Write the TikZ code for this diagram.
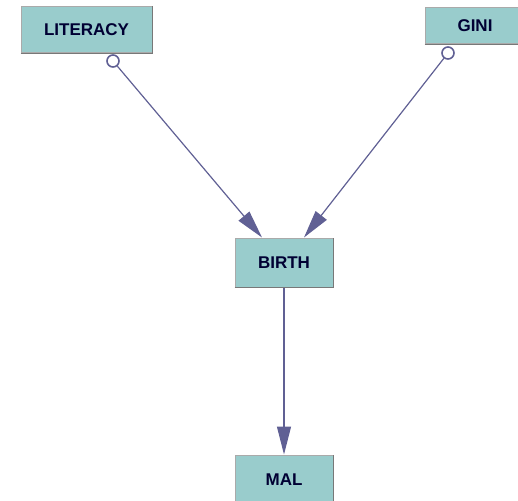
\documentclass[tikz,border=0pt]{standalone}
\usepackage{fontspec}
\setmainfont{Liberation Sans}
\usetikzlibrary{arrows.meta}
\definecolor{boxfill}{RGB}{153,204,204}
\definecolor{boxedge}{RGB}{170,170,170}
\definecolor{boxshade}{RGB}{120,120,120}
\definecolor{linkcol}{RGB}{96,96,148}
\definecolor{labelcol}{RGB}{0,0,51}
\tikzset{
  varbox/.style={rectangle, fill=boxfill, draw=boxedge, line width=1pt,
    inner sep=0pt, text=labelcol, font=\bfseries\fontsize{17}{19}\selectfont,
    minimum width=98pt, minimum height=49pt},
  shade edge/.style={draw=boxshade, line width=1.2pt},
  link/.style={draw=linkcol, line width=1.2pt,
    -{Triangle[length=28pt, width=14pt, fill=linkcol]}},
  ring/.style={circle, draw=linkcol, line width=1.6pt, fill=white,
    minimum size=12pt, inner sep=0pt}
}
\begin{document}
\begin{tikzpicture}[x=1pt, y=-1pt]
  \useasboundingbox (0,0) rectangle (518,500);
  % variable boxes
  \node[varbox, minimum width=131pt, minimum height=46pt] (lit) at (86.5,30) {LITERACY};
  \node[varbox, minimum width=100pt, minimum height=36pt] (gini) at (475,26) {GINI};
  \node[varbox] (birth) at (284,262.5) {BIRTH};
  \node[varbox, minimum height=50pt] (mal) at (284,480) {MAL};
  % darker lower and right edges
  \foreach \b in {lit, gini, birth, mal}
    \draw[shade edge] (\b.south west) -- (\b.south east) -- (\b.north east);
  % open circles at the tails of the links
  \node[ring] (litring) at (113,61) {};
  \node[ring] (giniring) at (448,53) {};
  % links
  \coordinate (birthL) at ([xshift=-22pt]birth.north);
  \coordinate (birthR) at ([xshift=20pt]birth.north);
  \draw[link] (litring) -- (birthL);
  \draw[link] (giniring) -- (birthR);
  \draw[link] (birth.south) -- (mal.north);
\end{tikzpicture}
\end{document}
